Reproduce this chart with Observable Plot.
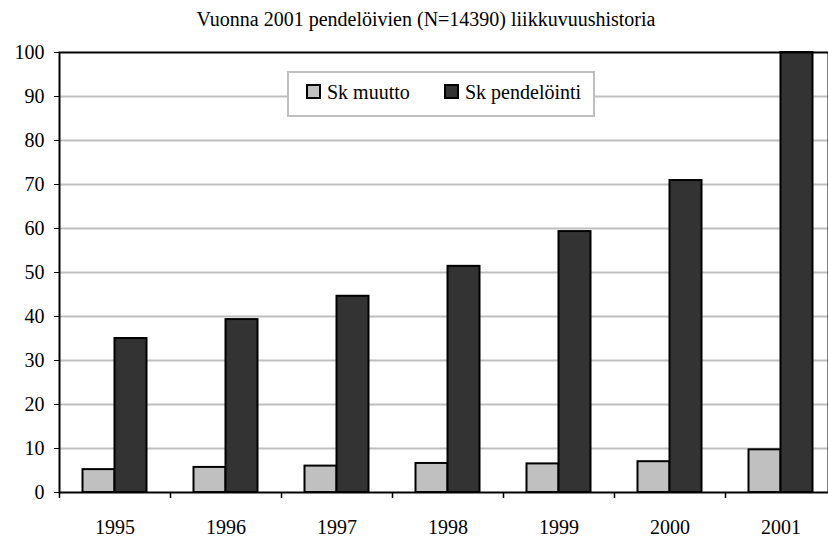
<!DOCTYPE html>
<html>
<head>
<meta charset="utf-8">
<script src="https://cdn.jsdelivr.net/npm/d3@7"></script>
<script src="https://cdn.jsdelivr.net/npm/@observablehq/plot@0.6"></script>
<style>
  html, body { margin: 0; padding: 0; background: #fff; overflow: hidden; }
  #wrap { position: relative; width: 828px; height: 538px; font-family: "Liberation Serif", "Times New Roman", serif; }
  #title { position: absolute; left: 26px; top: 8px; width: 800px; text-align: center; font-size: 20px; line-height: 23px; color: #000; white-space: nowrap; }
  #legend { position: absolute; left: 287px; top: 71px; width: 304px; height: 42px; border: 2px solid #c0c0c0; background: #fff; box-sizing: content-box; }
  .li { position: absolute; top: 11px; font-size: 20px; line-height: 20px; height: 15px; display: flex; align-items: center; white-space: nowrap; }
  .sw { width: 11px; height: 11px; border: 2px solid #000; margin-right: 6px; flex: none; }
  #chart { position: absolute; left: 0; top: 40px; }
</style>
</head>
<body>
<div id="wrap">
  <div id="title">Vuonna 2001 pendelöivien (N=14390) liikkuvuushistoria</div>
  <div id="chart"></div>
  <div id="legend"></div>
</div>
<script>
const years = ["1995", "1996", "1997", "1998", "1999", "2000", "2001"];
const seriesNames = ["Sk muutto", "Sk pendelöinti"];
const muutto = [5.2, 5.7, 6.0, 6.6, 6.5, 7.0, 9.7];
const pendelointi = [35.0, 39.3, 44.6, 51.4, 59.3, 70.9, 100];
const yTicks = [0, 10, 20, 30, 40, 50, 60, 70, 80, 90, 100];
const colors = ["#c0c0c0", "#333333"];

const rows = years.flatMap((y, i) => [
  {year: y, series: seriesNames[0], value: muutto[i]},
  {year: y, series: seriesNames[1], value: pendelointi[i]}
]);

const left = 59, right = 836;
const bw = (right - left) / years.length;
const barW = 32;
const gap = (bw - 2 * barW) / 2;
const serif = "Liberation Serif, Times New Roman, serif";

const chart = Plot.plot({
  width: 828,
  height: 498,
  marginTop: 12,
  marginBottom: 46,
  marginLeft: left,
  marginRight: 0,
  style: {fontFamily: serif, fontSize: "20px", overflow: "visible", background: "transparent", color: "#000"},
  x: {type: "band", domain: years, range: [left, right], padding: 0},
  y: {domain: [0, 100], ticks: yTicks},
  color: {domain: seriesNames, range: colors},
  marks: [
    Plot.ruleY(yTicks.filter(d => d > 0 && d < 100), {stroke: "#c0c0c0", strokeWidth: 2}),
    Plot.barY(rows.filter(d => d.series === seriesNames[0]), {x: "year", y: "value", fill: "series", stroke: "#000", strokeWidth: 2, insetLeft: gap, insetRight: gap + barW}),
    Plot.barY(rows.filter(d => d.series === seriesNames[1]), {x: "year", y: "value", fill: "series", stroke: "#000", strokeWidth: 2, insetLeft: gap + barW, insetRight: gap}),
    Plot.frame({stroke: "#000", strokeWidth: 2}),
    Plot.ruleX(years, {x: d => d, y1: 0, y2: 0, dx: -bw / 2, insetBottom: -6, stroke: "#000", strokeWidth: 1.5}),
    Plot.axisY({ticks: yTicks, tickSize: 5, tickPadding: 10, label: null, fontSize: 20, fontFamily: serif}),
    Plot.axisX({tickSize: 0, tickPadding: 27, label: null, fontSize: 20, fontFamily: serif})
  ]
});
document.getElementById("chart").appendChild(chart);

const legend = document.getElementById("legend");
const lx = [17, 155];
seriesNames.forEach((name, i) => {
  const item = document.createElement("div");
  item.className = "li";
  item.style.left = lx[i] + "px";
  const sw = document.createElement("div");
  sw.className = "sw";
  sw.style.background = colors[i];
  item.appendChild(sw);
  const t = document.createElement("span");
  t.textContent = name;
  item.appendChild(t);
  legend.appendChild(item);
});
</script>
</body>
</html>
